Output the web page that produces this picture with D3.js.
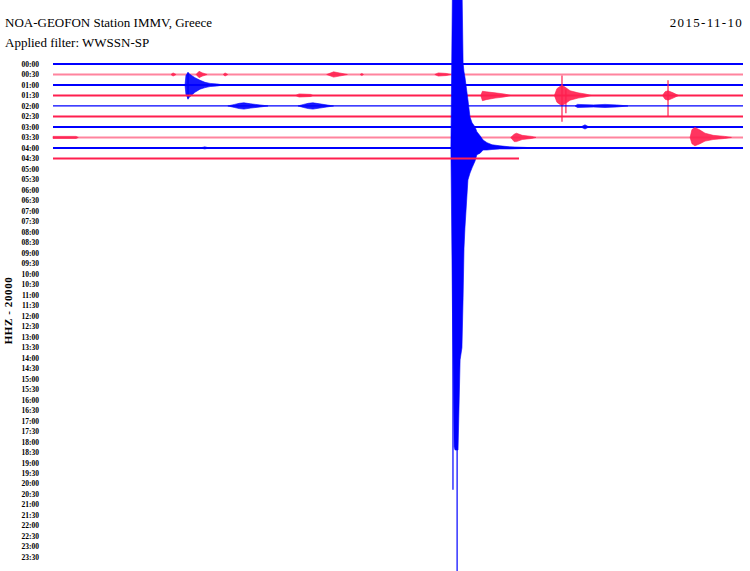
<!DOCTYPE html>
<html>
<head>
<meta charset="utf-8">
<script src="https://cdn.jsdelivr.net/npm/d3@7"></script>
<style>
body { margin: 0; background: #fff; }
text { font-family: "Liberation Serif", "DejaVu Serif", serif; fill: #000; }
</style>
</head>
<body>
<div id="chart"></div>
<script>
/////////////////////////////////////
///      DATA
/////////////////////////////////////

var stationTitle = "NOA-GEOFON Station IMMV, Greece";
var filterText = "Applied filter: WWSSN-SP";
var dayLabel = "2015-11-10";
var channelLabel = "HHZ - 20000";

var rowLabels = ["00:00","00:30","01:00","01:30","02:00","02:30","03:00","03:30",
  "04:00","04:30","05:00","05:30","06:00","06:30","07:00","07:30","08:00","08:30",
  "09:00","09:30","10:00","10:30","11:00","11:30","12:00","12:30","13:00","13:30",
  "14:00","14:30","15:00","15:30","16:00","16:30","17:00","17:30","18:00","18:30",
  "19:00","19:30","20:00","20:30","21:00","21:30","22:00","22:30","23:00","23:30"];

var rowsRecorded = 10;      // lines drawn so far (00:00 .. 04:30)
var lastMinute = 20.26;     // where the 04:30 line stops

// envelopes: [minute in line, amplitude up, amplitude down] in thousand counts
var events = [
  {row: 1, pts: [[5.13,0,0],[5.22,3,3],[5.35,0,0]]},
  {row: 1, pts: [[6.22,0,0],[6.35,6,6],[6.5,3,3],[6.7,0,0]]},
  {row: 1, pts: [[7.4,0,0],[7.48,3,3],[7.6,0,0]]},
  {row: 1, pts: [[11.9,0,0],[12.2,5,5],[12.45,3,3],[12.8,0,0]]},
  {row: 1, pts: [[13.35,0,0],[13.43,2,2],[13.5,0,0]]},
  {row: 1, pts: [[16.6,0,0],[16.75,3,3],[17.1,2,2],[17.3,0,0]]},
  {row: 2, pts: [[5.74,0,0],[5.78,18,18],[5.87,24,26],[5.96,20,22],[6.17,14,14],[6.39,9,8],[6.61,5,5],[6.83,3,3],[7.13,2,2],[7.4,0,0]]},
  {row: 3, pts: [[10.55,0,0],[10.7,3,3],[11.2,2,2],[11.3,0,0]]},
  {row: 3, pts: [[18.6,0,0],[18.67,8,10],[18.83,7,8],[19.22,5,5],[19.6,3,3],[19.9,0,0]]},
  {row: 3, pts: [[21.8,0,0],[21.91,13,13],[22.04,17,17],[22.13,19,19],[22.26,16,16],[22.48,9,9],[22.83,5,5],[23.13,3,3],[23.4,0,0]]},
  {row: 3, pts: [[26.5,0,0],[26.61,7,7],[26.74,9,9],[26.96,5,5],[27.2,0,0]]},
  {row: 4, pts: [[7.6,0,0],[7.9,3,3],[8.1,5,5],[8.3,6,6],[8.6,4,4],[9.0,2,2],[9.35,0,0]]},
  {row: 4, pts: [[10.65,0,0],[10.9,3,3],[11.1,5,5],[11.3,6,6],[11.6,4,4],[12.2,0,0]]},
  {row: 4, pts: [[22.7,0,0],[22.8,3,3],[23.5,2,2],[24.0,3,3],[24.5,2,2],[25.0,0,0]]},
  {row: 6, pts: [[22.95,0,0],[23.13,4,4],[23.3,0,0]]},
  {row: 7, pts: [[0,2,2],[1.0,2,2],[1.1,0,0]]},
  {row: 7, pts: [[19.9,0,0],[20.05,6,8],[20.15,8,8],[20.4,4,4],[20.8,2,2],[21.0,0,0]]},
  {row: 7, pts: [[27.7,0,0],[27.78,15,12],[27.91,19,16],[28.13,14,12],[28.35,8,7],[28.7,4,4],[29.2,2,2],[29.5,0,0]]},
  {row: 8, pts: [[6.4,0,0],[6.6,2,2],[6.8,0,0]]},
  // the big one, 04:17
  {row: 8, pts: [[17.30,0,0],[17.37,320,315],[17.44,320,570],[17.48,320,576],[17.57,320,576],
    [17.61,320,576],[17.70,320,404],[17.78,320,381],[17.83,162,286],[17.87,145,191],
    [17.91,135,153],[18.04,92,61],[18.13,59,48],[18.22,48,38],[18.35,40,25],[18.43,31,13],
    [18.57,23,10],[18.70,15,4],[18.87,10,4],[19.09,6,3],[19.43,4,2],[19.87,2,2],
    [20.5,1,1],[21.0,0,0]]}
];

// single peaks: [row, minute, up, down] in thousand counts
var spikes = [
  [2, 5.87, 24, 27],
  [3, 22.13, 38, 50],
  [3, 22.30, 12, 34],
  [3, 26.74, 29, 40],
  [8, 17.39, 0, 652],
  [8, 17.57, 0, 900]
];

/////////////////////////////////////
///      DRAW
/////////////////////////////////////

var width = 750, height = 571;
var blue = "#0000ff", red = "#ff1f4f";

var svg = d3.select("#chart").append("svg")
    .attr("width", width)
    .attr("height", height);

var x = d3.scaleLinear().domain([0, 30]).range([53, 743]);
var y = d3.scalePoint().domain(d3.range(rowLabels.length)).range([64, 557]);
var amp = d3.scaleLinear().domain([0, 20]).range([0, y.step()]);   // 20000 counts per line

function rowColor(i) { return i % 2 ? red : blue; }
function rowOpacity(i) { return (i == 1 || i == 7) ? 0.55 : 1; }

svg.append("text").attr("x", 5).attr("y", 26.5)
   .style("font-size", "13px").text(stationTitle);
svg.append("text").attr("x", 5).attr("y", 47)
   .style("font-size", "13px").text(filterText);
svg.append("text").attr("x", 743).attr("y", 26.5)
   .attr("text-anchor", "end")
   .style("font-size", "13px").style("letter-spacing", "1.3px")
   .text(dayLabel);

svg.append("text")
   .attr("transform", "translate(12," + ((y(0) + y(47)) / 2) + ") rotate(-90)")
   .attr("text-anchor", "middle")
   .style("font-size", "11px").style("font-weight", "bold")
   .style("letter-spacing", "0.6px")
   .text(channelLabel);

var axis = svg.append("g")
   .attr("transform", "translate(39,0)")
   .call(d3.axisLeft(y).tickSize(0).tickPadding(0)
         .tickFormat(function(i) { return rowLabels[i]; }));
axis.select(".domain").remove();
axis.selectAll("text")
   .style("font-family", "'Liberation Serif', serif")
   .style("font-size", "7.5px").style("font-weight", "bold");

var area = d3.area()
   .x(function(d) { return x(d[0]); });

for (var r = 0; r < rowsRecorded; r++) {
  var yr = y(r);
  var end = r == rowsRecorded - 1 ? lastMinute : 30;
  var g = svg.append("g").attr("stroke", rowColor(r)).attr("fill", rowColor(r));

  g.append("line")
   .attr("x1", x(0)).attr("x2", x(end))
   .attr("y1", yr).attr("y2", yr)
   .attr("stroke-width", r == 4 ? 1.2 : 2)
   .attr("stroke-opacity", rowOpacity(r));

  events.filter(function(e) { return e.row == r; }).forEach(function(e) {
    g.append("path")
     .datum(e.pts)
     .attr("stroke-width", 0.6)
     .attr("fill-opacity", r == 8 ? 1 : 0.9)
     .attr("d", area
        .y0(function(d) { return yr + amp(d[2]); })
        .y1(function(d) { return yr - amp(d[1]); }));
  });

  spikes.filter(function(s) { return s[0] == r; }).forEach(function(s) {
    g.append("line")
     .attr("x1", x(s[1])).attr("x2", x(s[1]))
     .attr("y1", yr - amp(s[2])).attr("y2", yr + amp(s[3]))
     .attr("stroke-width", 1.2);
  });
}
</script>
</body>
</html>
